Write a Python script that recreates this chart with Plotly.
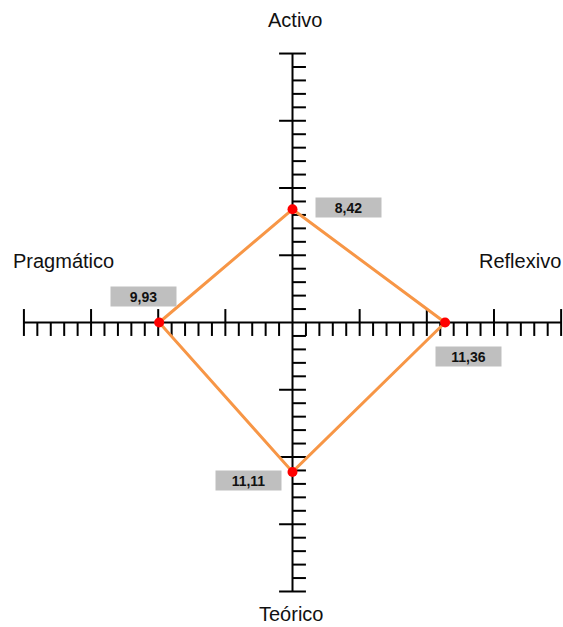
import plotly.graph_objects as go

# ---- data ----
categories = ["Activo", "Reflexivo", "Teórico", "Pragmático"]
values = [8.42, 11.36, 11.11, 9.93]
value_labels = ["8,42", "11,36", "11,11", "9,93"]
axis_ticks = list(range(-20, 21))
major_every = 5

# ---- style / geometry ----
directions = {"Activo": (0, 1), "Reflexivo": (1, 0), "Teórico": (0, -1), "Pragmático": (-1, 0)}
TICK = 1.0
W, H = 563, 627
XR = [-21.78, 20.14]
YR = [-22.64, 23.98]

fig = go.Figure()

# horizontal axis with ticks
hx, hy = [axis_ticks[0], axis_ticks[-1], None], [0, 0, None]
for t in axis_ticks:
    if t == 0:
        continue
    top = TICK if t % major_every == 0 else 0
    hx += [t, t, None]
    hy += [top, -TICK, None]
fig.add_trace(go.Scatter(x=hx, y=hy, mode="lines", line=dict(color="black", width=2),
                         hoverinfo="skip", showlegend=False))

# vertical axis with ticks
vx, vy = [0, 0, None], [axis_ticks[0], axis_ticks[-1], None]
for t in axis_ticks:
    if t == 0:
        continue
    left = -TICK if t % major_every == 0 else 0
    vx += [left, TICK, None]
    vy += [t, t, None]
fig.add_trace(go.Scatter(x=vx, y=vy, mode="lines", line=dict(color="black", width=2),
                         hoverinfo="skip", showlegend=False))

# polygon
px = [directions[c][0] * v for c, v in zip(categories, values)]
py = [directions[c][1] * v for c, v in zip(categories, values)]
fig.add_trace(go.Scatter(x=px + [px[0]], y=py + [py[0]], mode="lines",
                         line=dict(color="#F79646", width=3), hoverinfo="skip", showlegend=False))
fig.add_trace(go.Scatter(x=px, y=py, mode="markers",
                         marker=dict(color="#FF0000", size=10), hoverinfo="skip", showlegend=False))

# value label boxes (pixel offsets from the point)
shifts = {"Activo": (56, 2), "Reflexivo": (23, -34), "Teórico": (-44, -9), "Pragmático": (-16, 26)}
for c, x, y, lab in zip(categories, px, py, value_labels):
    sx, sy = shifts[c]
    fig.add_annotation(x=x, y=y, xref="x", yref="y", text="<b>" + lab + "</b>", showarrow=False,
                       xshift=sx, yshift=sy, bgcolor="#BFBFBF", width=63, height=17,
                       font=dict(family="Liberation Sans", size=14, color="#111111"),
                       xanchor="center", yanchor="middle", align="center")

# category names
name_pos = {"Activo": (294.5, 20), "Reflexivo": (520, 261), "Teórico": (291, 614), "Pragmático": (63, 261)}
for c in categories:
    x_px, y_px = name_pos[c]
    fig.add_annotation(x=x_px / W, y=1 - y_px / H, xref="paper", yref="paper", text=c,
                       showarrow=False, xanchor="center", yanchor="middle",
                       font=dict(family="Liberation Sans", size=20, color="#111111"))

fig.update_layout(width=W, height=H, margin=dict(l=0, r=0, t=0, b=0),
                  plot_bgcolor="white", paper_bgcolor="white",
                  xaxis=dict(range=XR, visible=False, fixedrange=True),
                  yaxis=dict(range=YR, visible=False, fixedrange=True),
                  showlegend=False)

fig.write_html("out.html", config={"displayModeBar": False},
               post_script="document.body.style.margin='0';document.body.style.overflow='hidden';")
